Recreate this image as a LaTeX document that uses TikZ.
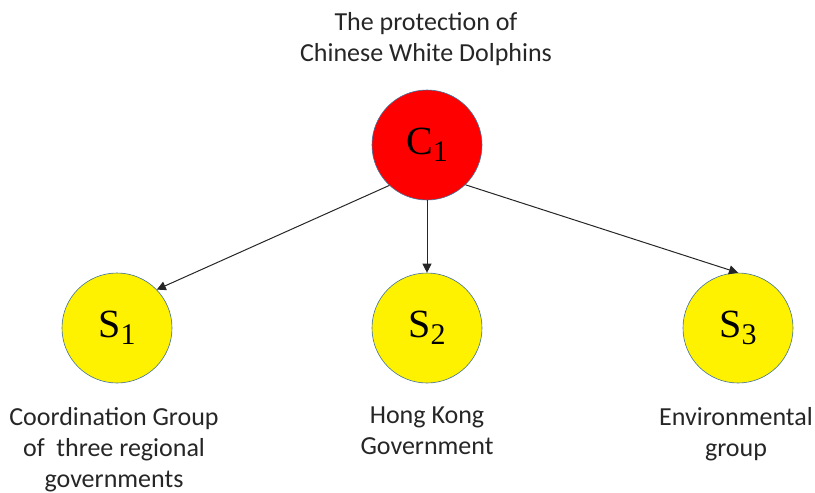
\documentclass[tikz,border=0pt]{standalone}
\usepackage{fontspec}
\setmainfont{Carlito}
\newfontfamily\symfont{Liberation Serif}
\usetikzlibrary{arrows.meta}
\definecolor{edgeblue}{HTML}{41719C}
\tikzset{
  circ/.style={circle, draw=edgeblue, line width=0.6pt, minimum size=110pt, inner sep=0pt},
  lbl/.style={align=center, inner sep=0pt, anchor=north, font=\fontsize{26}{31}\selectfont, text=black!85},
  conn/.style={-{Triangle[length=9pt,width=9pt]}, line width=1pt, black!85}
}
\newcommand{\sym}[2]{{\symfont\fontsize{40}{40}\selectfont #1\raisebox{-7pt}{\fontsize{30}{30}\selectfont #2}}}
\begin{document}
\begin{tikzpicture}[x=1pt,y=-1pt]
\useasboundingbox (0,0) rectangle (815,493);
\node[circ, fill=red] (c1) at (427,145) {\sym{C}{1}};
\node[circ, fill=yellow] (s1) at (117,328) {\sym{S}{1}};
\node[circ, fill=yellow] (s2) at (427,328) {\sym{S}{2}};
\node[circ, fill=yellow] (s3) at (738,328) {\sym{S}{3}};
\node[lbl] (top) at (426,12) {The protection of\\Chinese White Dolphins};
\node[lbl] (l1) at (114,407) {Coordination Group\\of\ \ three regional\\governments};
\node[lbl] (l2) at (427,407) {Hong Kong\\Government};
\node[lbl] (l3) at (736,407) {Environmental\\group};
\draw[conn] (c1.-133) -- (s1.44);
\draw[conn] (c1.-90) -- (s2.90);
\draw[conn] (c1.-46) -- (s3.90);
\end{tikzpicture}
\end{document}
